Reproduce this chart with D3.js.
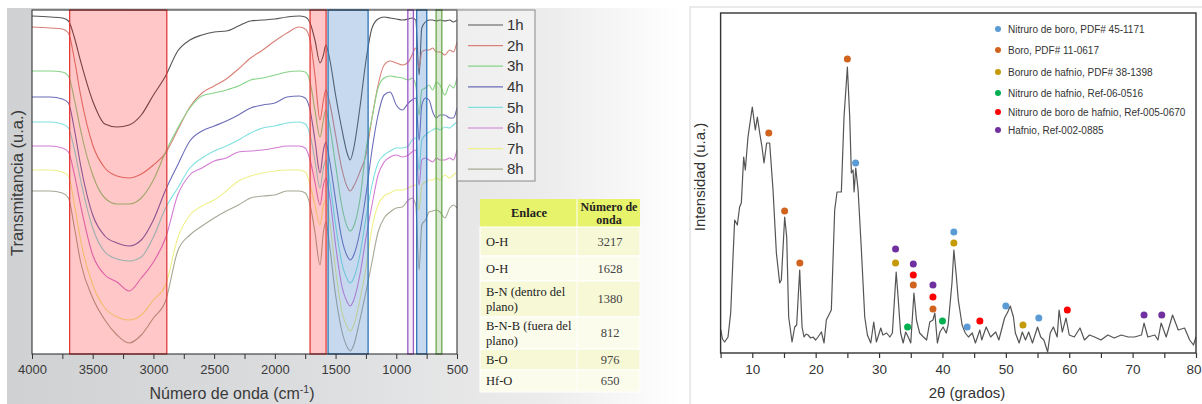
<!DOCTYPE html>
<html>
<head>
<meta charset="utf-8">
<script src="https://cdn.jsdelivr.net/npm/d3@7"></script>
<style>
  body { margin: 0; background: #fff; }
  svg { display: block; font-family: 'Liberation Sans', Arial, sans-serif; }
</style>
</head>
<body>
<svg id="canvas"></svg>
<script>
// ---------- FTIR data (transmittance, arbitrary units) ----------
let wavenumbers = [4000, 3850, 3750, 3700, 3650, 3600, 3500, 3400, 3300, 3200, 3100, 3000, 2900, 2800, 2700, 2600, 2500, 2400, 2300, 2200, 2100, 2000, 1900, 1800, 1750, 1710, 1670, 1628, 1600, 1580, 1550, 1500, 1450, 1400, 1380, 1350, 1300, 1250, 1200, 1150, 1100, 1050, 1000, 950, 900, 870, 840, 812, 790, 760, 730, 700, 670, 640, 600, 560, 530, 500];

let t1h = [338, 337, 336, 333, 316, 293, 253, 230, 227, 229, 239, 259, 278, 303, 314, 319, 322, 323, 328, 333, 334, 335, 337, 338, 337, 331, 314, 291, 299, 309, 296, 259, 226, 199, 194, 206, 246, 293, 326, 335, 337, 336, 335, 334, 335, 336, 334, 279, 326, 332, 334, 334, 333, 334, 333, 334, 332, 334];
let t2h = [327, 326, 325, 321, 294, 259, 209, 186, 178, 176, 180, 189, 201, 224, 247, 261, 268, 275, 285, 296, 304, 313, 321, 327, 325, 314, 279, 234, 254, 264, 252, 219, 186, 166, 163, 168, 182, 199, 236, 269, 289, 293, 291, 289, 292, 299, 306, 286, 302, 304, 304, 306, 302, 302, 299, 304, 302, 312];
let t3h = [283, 283, 282, 278, 254, 224, 179, 156, 150, 150, 156, 174, 202, 226, 246, 258, 261, 264, 268, 274, 276, 279, 282, 283, 282, 272, 244, 217, 234, 244, 229, 189, 149, 126, 123, 128, 154, 204, 236, 266, 276, 278, 277, 276, 274, 276, 269, 239, 264, 266, 269, 264, 272, 269, 259, 269, 266, 276];
let t4h = [257, 257, 255, 251, 224, 189, 139, 118, 111, 108, 114, 134, 164, 189, 213, 223, 228, 233, 239, 246, 249, 251, 257, 258, 256, 244, 214, 181, 204, 212, 194, 154, 116, 97, 94, 99, 122, 159, 204, 239, 259, 262, 249, 244, 251, 254, 256, 214, 249, 256, 254, 242, 236, 239, 239, 236, 236, 246];
let t5h = [232, 232, 230, 226, 204, 174, 126, 102, 95, 93, 97, 117, 146, 166, 186, 196, 203, 208, 214, 221, 226, 228, 231, 232, 230, 219, 194, 166, 186, 194, 174, 129, 92, 74, 71, 76, 99, 136, 169, 191, 199, 203, 206, 206, 208, 214, 216, 184, 214, 219, 222, 224, 226, 224, 227, 226, 229, 232];
let t6h = [208, 208, 206, 202, 179, 149, 99, 79, 72, 63, 76, 92, 116, 159, 179, 186, 193, 196, 202, 203, 204, 206, 208, 208, 206, 194, 172, 149, 169, 176, 159, 109, 69, 51, 48, 54, 79, 116, 149, 179, 192, 197, 199, 197, 199, 202, 204, 169, 194, 196, 194, 192, 196, 194, 194, 196, 194, 204];
let t7h = [184, 184, 182, 178, 149, 114, 69, 46, 37, 34, 39, 54, 69, 116, 139, 148, 154, 163, 173, 178, 181, 183, 184, 184, 182, 169, 149, 129, 149, 154, 134, 84, 44, 26, 23, 29, 54, 86, 126, 149, 158, 161, 164, 164, 166, 168, 169, 144, 169, 172, 174, 174, 176, 174, 179, 176, 179, 182];
let t8h = [163, 163, 161, 156, 126, 92, 56, 34, 19, 11, 19, 36, 53, 103, 119, 128, 136, 143, 149, 156, 158, 159, 163, 163, 161, 149, 122, 89, 122, 132, 109, 59, 24, 6, 3, 9, 34, 62, 92, 122, 136, 142, 146, 147, 154, 156, 149, 84, 129, 134, 142, 143, 144, 142, 136, 146, 149, 146];

let hourLabels = ['1h', '2h', '3h', '4h', '5h', '6h', '7h', '8h'];
let hourSeries = [t1h, t2h, t3h, t4h, t5h, t6h, t7h, t8h];
let hourColors = ['#555555', '#d98078', '#88d488', '#6c6cb8', '#80e0e0', '#d47cd4', '#f0f08a', '#a8a896'];

let ftirTicks = [4000, 3750, 3500, 3250, 3000, 2750, 2500, 2250, 2000, 1750, 1500, 1250, 1000, 750, 500];

// highlighted bands (cm-1)
let bandFrom = [3690, 1710, 1562, 905, 832, 672];
let bandTo = [2890, 1578, 1232, 859, 749, 625];
let bandStroke = ['#e23b3b', '#e23b3b', '#2e75b6', '#9b59c6', '#2e75b6', '#6aa84f'];
let bandFill = ['rgba(255,0,0,0.22)', 'rgba(255,0,0,0.22)', 'rgba(70,130,200,0.30)', 'rgba(155,89,198,0.10)', 'rgba(70,130,200,0.30)', 'rgba(106,168,79,0.25)'];

// table
let bondNames = [['O-H'], ['O-H'], ['B-N (dentro del', 'plano)'], ['B-N-B (fuera del', 'plano)'], ['B-O'], ['Hf-O']];
let bondWavenumbers = [3217, 1628, 1380, 812, 976, 650];

// ---------- XRD data ----------
let xrdAngle = [5.0, 5.3, 5.64, 6.17, 6.59, 6.96, 7.22, 7.64, 8.0, 8.27, 8.64, 8.9, 9.32, 10.0, 10.48, 10.8, 11.17, 11.53, 11.85, 12.27, 12.74, 13.27, 13.8, 14.32, 14.58, 15.11, 15.43, 15.74, 16.27, 16.69, 17.0, 17.48, 17.85, 18.16, 18.5, 18.8, 19.2, 19.58, 20.0, 20.37, 20.9, 21.32, 21.68, 22.47, 23.0, 23.37, 24.05, 24.47, 25.0, 25.37, 25.63, 25.9, 26.06, 26.32, 26.69, 27.21, 27.74, 28.16, 28.69, 29.16, 29.58, 30.27, 30.6, 31.2, 31.7, 32.1, 32.7, 33.0, 33.4, 33.8, 34.2, 34.6, 35.0, 35.5, 35.9, 36.4, 37.0, 37.5, 38.0, 38.5, 38.8, 39.2, 39.6, 40.1, 40.6, 40.9, 41.5, 41.8, 42.2, 42.5, 43.1, 43.6, 44.1, 44.7, 45.2, 45.9, 46.2, 46.9, 47.6, 48.4, 48.9, 49.8, 50.3, 50.7, 51.2, 51.5, 52.1, 52.6, 53.1, 53.6, 54.2, 55.0, 55.5, 56.0, 56.6, 57.0, 57.5, 58.1, 58.4, 58.9, 59.5, 60.0, 60.8, 61.7, 62.4, 63.2, 64.0, 65.0, 66.1, 67.1, 68.2, 69.3, 70.3, 71.4, 71.8, 72.4, 73.5, 74.0, 74.5, 75.3, 76.3, 77.2, 78.2, 79.0, 79.6, 80.0];
let xrdIntensity = [24, 14, 11, 16, 40, 96, 133, 128, 146, 150, 196, 183, 216, 246, 223, 236, 220, 206, 190, 210, 210, 163, 100, 70, 73, 136, 116, 36, 11, 26, 28, 83, 26, 16, 19, 18, 15, 16, 13, 16, 21, 10, 33, 43, 143, 161, 161, 236, 286, 236, 180, 183, 161, 185, 163, 103, 36, 18, 10, 31, 11, 25, 18, 20, 16, 20, 81, 56, 20, 10, 21, 16, 10, 60, 33, 20, 16, 13, 31, 33, 40, 10, 21, 26, 20, 28, 70, 103, 76, 53, 28, 20, 16, 20, 10, 23, 13, 26, 16, 21, 13, 35, 41, 47, 36, 20, 10, 21, 13, 21, 10, 26, 16, 13, 1, 20, 26, 16, 43, 21, 35, 18, 16, 25, 13, 18, 16, 13, 18, 15, 18, 16, 16, 18, 30, 16, 18, 13, 30, 16, 38, 23, 25, 13, 8, 16];
let xrdTicks = [5, 10, 15, 20, 25, 30, 35, 40, 45, 50, 55, 60, 65, 70, 75, 80];

let phaseNames = ['Nitruro de boro, PDF# 45-1171', 'Boro, PDF# 11-0617', 'Boruro de hafnio, PDF# 38-1398', 'Nitruro de hafnio, Ref-06-0516', 'Nitruro de boro de hafnio, Ref-005-0670', 'Hafnio, Ref-002-0885'];
let phaseColors = ['#5b9bd5', '#d0641e', '#c49a06', '#00b050', '#ff0000', '#7030a0'];

let markerAngle = [12.6, 15.1, 17.5, 25.0, 26.3, 32.6, 32.6, 34.5, 35.4, 35.4, 35.4, 38.5, 38.5, 38.5, 40.0, 41.8, 41.8, 43.9, 45.9, 50.0, 52.7, 55.2, 59.7, 71.8, 74.6];
let markerIntensity = [220, 142, 90, 294, 190, 104, 90, 26, 89, 78, 68, 68, 56, 44, 32, 121, 110, 26, 32, 47, 28, 35, 43, 38, 38];
let markerPhase = [1, 1, 1, 1, 0, 5, 2, 3, 5, 4, 1, 5, 4, 1, 3, 0, 2, 0, 4, 0, 2, 0, 4, 5, 5];

// ---------- canvas ----------
let width = 1202;
let height = 404;
let canvas = d3.select('#canvas').attr('width', width).attr('height', height);
let defs = canvas.append('defs');

let grad = defs.append('linearGradient').attr('id', 'panelBg').attr('x1', '0').attr('x2', '1').attr('y1', '0').attr('y2', '0');
grad.append('stop').attr('offset', '0').attr('stop-color', '#cfd1d2');
grad.append('stop').attr('offset', '0.45').attr('stop-color', '#dcdddf');
grad.append('stop').attr('offset', '0.8').attr('stop-color', '#ececec');
grad.append('stop').attr('offset', '1').attr('stop-color', '#ffffff');

// left panel background
canvas.append('rect').attr('x', 7).attr('y', 8).attr('width', 673).attr('height', 396).attr('fill', 'url(#panelBg)');

// ---------- FTIR plot ----------
let xL = d3.scaleLinear().domain([4000, 500]).range([32, 457]);
let yL = d3.scaleLinear().domain([0, 344]).range([354, 10]);

canvas.append('rect').attr('x', 32).attr('y', 10).attr('width', 425).attr('height', 344).attr('fill', '#ffffff');

let ftirLine = d3.line()
  .x((d, i) => xL(wavenumbers[i]))
  .y(d => yL(d))
  .curve(d3.curveMonotoneX);

let ftirG = canvas.append('g');
hourSeries.forEach((s, k) => {
  ftirG.append('path')
    .attr('d', ftirLine(s))
    .attr('fill', 'none')
    .attr('stroke', hourColors[k])
    .attr('stroke-width', 1.1);
});

// bands on top of the curves
bandFrom.forEach((b, i) => {
  canvas.append('rect')
    .attr('x', xL(b))
    .attr('y', yL(344))
    .attr('width', xL(bandTo[i]) - xL(b))
    .attr('height', yL(0) - yL(344))
    .attr('fill', bandFill[i])
    .attr('stroke', bandStroke[i])
    .attr('stroke-width', 1.3);
});

canvas.append('rect').attr('x', 32).attr('y', 10).attr('width', 425).attr('height', 344)
  .attr('fill', 'none').attr('stroke', '#222').attr('stroke-width', 1);

let xAxisL = d3.axisBottom(xL)
  .tickValues(ftirTicks)
  .tickSize(5)
  .tickSizeOuter(0)
  .tickFormat(d => d % 500 === 0 ? d : '');
let gxL = canvas.append('g').attr('transform', 'translate(0,354)').call(xAxisL);
gxL.select('.domain').remove();
gxL.selectAll('line').attr('stroke', '#333');
gxL.selectAll('text').attr('font-size', 13).attr('fill', '#3a3a3a').attr('font-family', "'Liberation Sans', Arial, sans-serif").attr('dy', '0.95em');

let xt = canvas.append('text').attr('x', 232).attr('y', 399).attr('text-anchor', 'middle')
  .attr('font-size', 16).attr('fill', '#3a3a3a');
xt.append('tspan').text('Número de onda (cm');
xt.append('tspan').attr('font-size', 10.5).attr('dy', -6).text('-1');
xt.append('tspan').attr('dy', 6).text(')');

canvas.append('text').attr('transform', 'translate(23,183) rotate(-90)').attr('text-anchor', 'middle')
  .attr('font-size', 16.5).attr('fill', '#3a3a3a').text('Transmitancia (u.a.)');

// legend
canvas.append('rect').attr('x', 457).attr('y', 10).attr('width', 78).attr('height', 171)
  .attr('fill', 'rgba(255,255,255,0.35)').attr('stroke', '#8a8a8a').attr('stroke-width', 1);
hourLabels.forEach((h, i) => {
  let yy = 25 + i * 20.6;
  canvas.append('line').attr('x1', 468).attr('x2', 503).attr('y1', yy).attr('y2', yy)
    .attr('stroke', hourColors[i]).attr('stroke-width', 1.2);
  canvas.append('text').attr('x', 507).attr('y', yy).attr('dy', '0.35em')
    .attr('font-size', 15).attr('fill', '#333').text(h);
});

// table
let rowTop = [199, 227, 256, 281, 317, 349, 370];
let rowEnd = 392;
let tableX0 = 480, tableX1 = 640, tableMid = 577;
let tbl = canvas.append('g').attr('font-family', "'Liberation Serif', 'Times New Roman', serif");
tbl.append('rect').attr('x', tableX0).attr('y', rowTop[0]).attr('width', tableX1 - tableX0).attr('height', rowTop[1] - rowTop[0]).attr('fill', '#e8f36c');
bondNames.forEach((lines, i) => {
  let top = rowTop[i + 1];
  let bottom = i + 2 < rowTop.length ? rowTop[i + 2] : rowEnd;
  tbl.append('rect').attr('x', tableX0).attr('y', top).attr('width', tableX1 - tableX0).attr('height', bottom - top)
    .attr('fill', i % 2 === 0 ? '#f6f8d6' : '#fbfcec').attr('stroke', '#ffffff').attr('stroke-width', 1);
  let cy = (top + bottom) / 2;
  lines.forEach((ln, j) => {
    tbl.append('text').attr('x', 486).attr('y', cy + (j - (lines.length - 1) / 2) * 15).attr('dy', '0.35em')
      .attr('font-size', 12.5).attr('fill', '#222').text(ln);
  });
  tbl.append('text').attr('x', 610).attr('y', cy).attr('dy', '0.35em').attr('text-anchor', 'middle')
    .attr('font-size', 12.5).attr('fill', '#444').text(bondWavenumbers[i]);
});
tbl.append('line').attr('x1', tableMid).attr('x2', tableMid).attr('y1', rowTop[0]).attr('y2', rowEnd).attr('stroke', '#ffffff').attr('stroke-width', 1);
tbl.append('text').attr('x', 529).attr('y', 213).attr('dy', '0.35em').attr('text-anchor', 'middle')
  .attr('font-size', 12.5).attr('font-weight', 'bold').attr('fill', '#222').text('Enlace');
tbl.append('text').attr('x', 609).attr('y', 207).attr('dy', '0.35em').attr('text-anchor', 'middle')
  .attr('font-size', 12).attr('font-weight', 'bold').attr('fill', '#222').text('Número de');
tbl.append('text').attr('x', 609).attr('y', 220).attr('dy', '0.35em').attr('text-anchor', 'middle')
  .attr('font-size', 12).attr('font-weight', 'bold').attr('fill', '#222').text('onda');

// ---------- XRD plot ----------
canvas.append('rect').attr('x', 690).attr('y', 7).attr('width', 520).attr('height', 400)
  .attr('fill', '#ffffff').attr('stroke', '#d6d6d6').attr('stroke-width', 1);

let xR = d3.scaleLinear().domain([5, 80]).range([720.6, 1196]);
let yR = d3.scaleLinear().domain([0, 340]).range([353, 13]);

let xrdLine = d3.line()
  .x((d, i) => xR(xrdAngle[i]))
  .y(d => yR(d));

canvas.append('path').attr('d', xrdLine(xrdIntensity))
  .attr('fill', 'none').attr('stroke', '#555').attr('stroke-width', 1.2).attr('stroke-linejoin', 'round');

canvas.selectAll('circle.marker')
  .data(markerAngle)
  .enter()
  .append('circle')
  .attr('class', 'marker')
  .attr('cx', d => xR(d))
  .attr('cy', (d, i) => yR(markerIntensity[i]))
  .attr('r', 3.5)
  .attr('fill', (d, i) => phaseColors[markerPhase[i]]);

canvas.append('rect').attr('x', 720.6).attr('y', 13).attr('width', 1196 - 720.6).attr('height', 340)
  .attr('fill', 'none').attr('stroke', '#333').attr('stroke-width', 1.4);

let xAxisR = d3.axisBottom(xR)
  .tickValues(xrdTicks)
  .tickSize(5)
  .tickSizeOuter(0)
  .tickFormat(d => d % 10 === 0 ? d : '');
let gxR = canvas.append('g').attr('transform', 'translate(0,353)').call(xAxisR);
gxR.select('.domain').remove();
gxR.selectAll('line').attr('stroke', '#333').attr('stroke-width', 1.2);
gxR.selectAll('text').attr('font-size', 13.5).attr('fill', '#333').attr('font-family', "'Liberation Sans', Arial, sans-serif").attr('dy', '0.95em');
// keep the last label inside the window
gxR.selectAll('.tick').filter(d => d === 80).select('text').attr('text-anchor', 'end').attr('x', 5);

canvas.append('text').attr('x', 967).attr('y', 398).attr('text-anchor', 'middle')
  .attr('font-size', 15).attr('fill', '#333').text('2θ (grados)');
canvas.append('text').attr('transform', 'translate(705,177) rotate(-90)').attr('text-anchor', 'middle')
  .attr('font-size', 15).attr('fill', '#333').text('Intensidad (u.a.)');

let legendY = [29, 50, 72, 93, 112, 130];
phaseNames.forEach((p, i) => {
  canvas.append('circle').attr('cx', 998).attr('cy', legendY[i]).attr('r', 3)
    .attr('fill', phaseColors[i]);
  canvas.append('text').attr('x', 1008).attr('y', legendY[i]).attr('dy', '0.35em')
    .attr('font-size', 10).attr('fill', '#333').text(p);
});
</script>
</body>
</html>
